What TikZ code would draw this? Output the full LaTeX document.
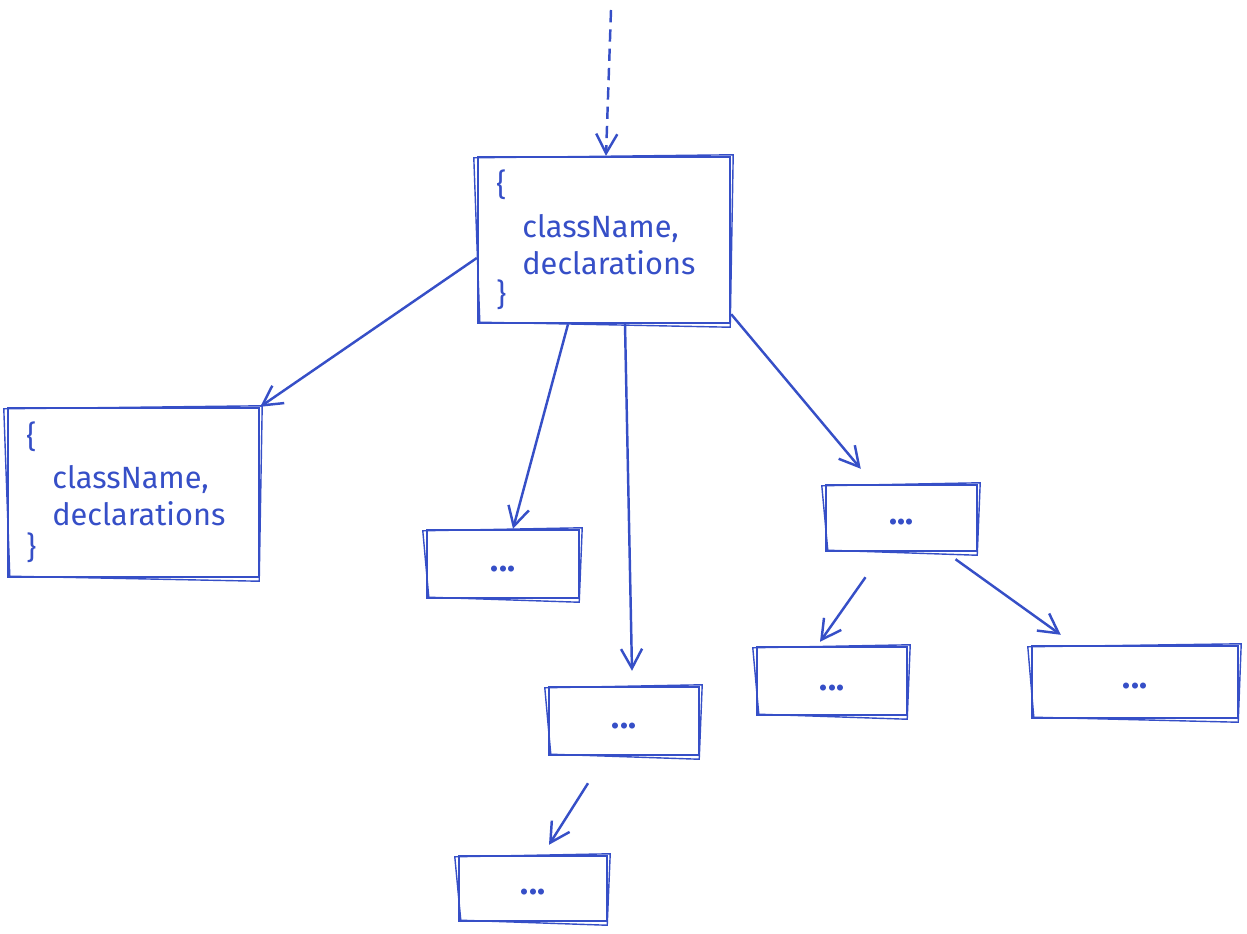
\documentclass[tikz,border=0pt]{standalone}
\usepackage{fontspec}
\setmainfont{Fira Sans}
\usetikzlibrary{arrows.meta,calc}
\definecolor{exblue}{HTML}{364FC7}
\newcommand\sketchbox[1]{%
  \draw[sketchline] ([shift={(-3,2)}]#1.north west) -- ([shift={(2,-1)}]#1.north east)
    -- ([shift={(-1,3)}]#1.south east) -- ([shift={(3,-2)}]#1.south west) -- cycle;}
\begin{document}
\begin{tikzpicture}[x=0.02cm,y=-0.02cm,
  box/.style={draw=exblue,line width=1.4pt,inner sep=0pt,fill=none},
  sketchline/.style={draw=exblue,line width=0.8pt},
  txt/.style={text=exblue,font=\fontsize{17.5}{20}\selectfont,inner sep=0pt,anchor=west},
  dots/.style={text=exblue,font=\bfseries\fontsize{19}{20}\selectfont,inner sep=0pt},
  arr/.style={draw=exblue,line width=1.4pt,-{Straight Barb[length=11pt,width=12pt,line width=1.4pt]}}]
\useasboundingbox (0,0) rectangle (1247,933);
% boxes
\node[box,minimum width=5.04cm,minimum height=3.32cm] (top) at (604,240) {};
\node[box,minimum width=5.02cm,minimum height=3.38cm] (left) at (133.5,492.5) {};
\node[box,minimum width=3.04cm,minimum height=1.36cm] (A) at (503,564) {};
\node[box,minimum width=3.0cm,minimum height=1.36cm] (B) at (624,721) {};
\node[box,minimum width=2.96cm,minimum height=1.3cm] (C) at (533,888.5) {};
\node[box,minimum width=3.02cm,minimum height=1.32cm] (D) at (901.5,518) {};
\node[box,minimum width=3.0cm,minimum height=1.36cm] (E) at (832,681) {};
\node[box,minimum width=4.12cm,minimum height=1.44cm] (F) at (1135,682) {};
\sketchbox{top}\sketchbox{left}\sketchbox{A}\sketchbox{B}
\sketchbox{C}\sketchbox{D}\sketchbox{E}\sketchbox{F}
% texts
\node[txt] (t1) at (496,185) {\{};
\node[txt] (t2) at (522,229) {className,};
\node[txt] (t3) at (522,263) {declarations};
\node[txt] (t4) at (496,295) {\}};
\node[txt] (l1) at (26,437) {\{};
\node[txt] (l2) at (52,480) {className,};
\node[txt] (l3) at (52,514) {declarations};
\node[txt] (l4) at (26,548) {\}};
\node[dots] (dA) at ($(A)+(0,5)$) {...};
\node[dots] (dB) at ($(B)+(0,5)$) {...};
\node[dots] (dC) at ($(C)+(0,4)$) {...};
\node[dots] (dD) at ($(D)+(0,4)$) {...};
\node[dots] (dE) at ($(E)+(0,7)$) {...};
\node[dots] (dF) at ($(F)+(0,4)$) {...};
% arrows
\coordinate (src) at (611,10);
\draw[arr,dash pattern=on 7pt off 4pt] (src) -- ($(top.north)+(2,0)$);
\draw[arr] ($(top.west)+(0,18)$) -- (left.north east);
\draw[arr] ($(top.south)+(-36,0)$) -- ($(A.north)+(10,0)$);
\draw[arr] ($(top.south)+(21,0)$) -- ($(B.north)+(8,-15)$);
\draw[arr] ($(top.south east)+(0,-10)$) -- ($(D.north west)+(36,-15)$);
\draw[arr] ($(D.south)+(-36,25)$) -- ($(E.north)+(-12,-4)$);
\draw[arr] ($(D.south)+(54,7)$) -- ($(F.north west)+(30,-10)$);
\draw[arr] ($(B.south)+(-36,27)$) -- ($(C.north)+(16,-10)$);
\end{tikzpicture}
\end{document}
